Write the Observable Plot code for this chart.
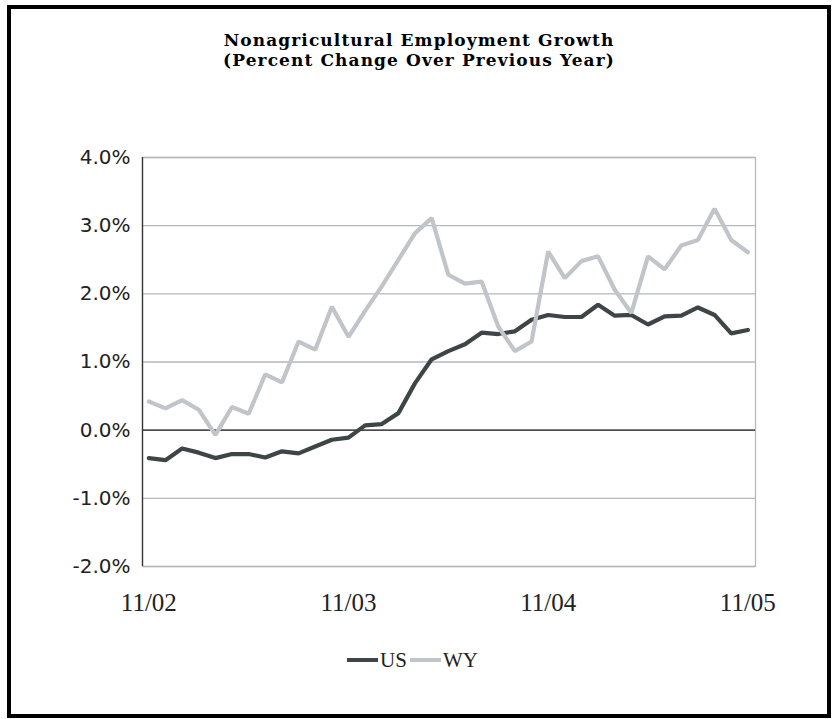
<!DOCTYPE html>
<html>
<head>
<meta charset="utf-8">
<script src="https://cdn.jsdelivr.net/npm/d3@7"></script>
<script src="https://cdn.jsdelivr.net/npm/@observablehq/plot@0.6"></script>
<style>
  html, body { margin: 0; padding: 0; background: #fff; }
  #frame { position: absolute; left: 7px; top: 5px; width: 816px; height: 705px; border: 4px solid #000; background: #fff; }
  #title { height: 71px; box-sizing: border-box; padding-top: 21px; text-align: center; font-family: "DejaVu Serif", serif; font-weight: bold; font-size: 17px; letter-spacing: 1.1px; line-height: 20px; color: #000; }
  #chart svg { display: block; }
  #legend { position: relative; height: 40px; font-family: "Liberation Serif", serif; font-size: 21px; color: #222; }
  .item { position: absolute; top: 0; height: 40px; display: flex; align-items: center; }
  .sw { display: inline-block; width: 31px; height: 4px; margin-right: 2px; }
</style>
</head>
<body>
<div id="frame">
  <div id="title">Nonagricultural Employment Growth<br>(Percent Change Over Previous Year)</div>
  <div id="chart"></div>
  <div id="legend"></div>
</div>
<script>
const months = ["11/02","12/02","01/03","02/03","03/03","04/03","05/03","06/03","07/03","08/03","09/03","10/03",
  "11/03","12/03","01/04","02/04","03/04","04/04","05/04","06/04","07/04","08/04","09/04","10/04",
  "11/04","12/04","01/05","02/05","03/05","04/05","05/05","06/05","07/05","08/05","09/05","10/05","11/05"];
const us = [-0.41,-0.44,-0.27,-0.33,-0.41,-0.35,-0.35,-0.40,-0.31,-0.34,-0.24,-0.14,
  -0.11,0.07,0.09,0.25,0.69,1.04,1.16,1.26,1.43,1.41,1.45,1.62,
  1.69,1.66,1.66,1.84,1.68,1.69,1.55,1.67,1.68,1.80,1.69,1.42,1.47];
const wy = [0.42,0.32,0.44,0.30,-0.07,0.34,0.24,0.82,0.70,1.30,1.18,1.81,
  1.37,1.75,2.11,2.50,2.89,3.11,2.28,2.15,2.18,1.52,1.16,1.30,
  2.62,2.23,2.48,2.55,2.06,1.72,2.55,2.36,2.71,2.79,3.25,2.79,2.61];
const xTickLabels = ["11/02","11/03","11/04","11/05"];
const yTicks = [-2,-1,0,1,2,3,4];
const seriesNames = ["US","WY"];
const seriesColors = ["#3e4547","#c1c4c8"];

const data = months.map((m, i) => ({i, month: m, US: us[i], WY: wy[i]}));
const xTickIdx = xTickLabels.map(l => months.indexOf(l));
const xDomain = [-0.38, months.length - 1 + 0.46];

const chart = Plot.plot({
  width: 816,
  height: 560,
  marginTop: 77,
  marginBottom: 74,
  marginLeft: 131,
  marginRight: 72,
  style: {fontFamily: "Liberation Serif, serif", fontSize: "18px", color: "#222", background: "#fff", overflow: "visible"},
  x: {type: "linear", domain: xDomain},
  y: {domain: [-2, 4]},
  marks: [
    Plot.gridY(yTicks, {stroke: "#b5b8bb", strokeOpacity: 1, strokeWidth: 1.3}),
    Plot.frame({stroke: "#b5b8bb", strokeWidth: 1.3}),
    Plot.ruleY([0], {stroke: "#222", strokeWidth: 1.3}),
    Plot.ruleX([xDomain[0]], {stroke: "#333", strokeWidth: 1.3}),
    Plot.lineY(data, {x: "i", y: "US", stroke: seriesColors[0], strokeWidth: 4.2, strokeLinejoin: "miter"}),
    Plot.lineY(data, {x: "i", y: "WY", stroke: seriesColors[1], strokeWidth: 4.2, strokeLinejoin: "miter"}),
    Plot.axisY(yTicks, {tickSize: 0, tickPadding: 12, tickFormat: d => d.toFixed(1) + "%",
      fontFamily: "DejaVu Sans, sans-serif", fontSize: 20, letterSpacing: 3, fill: "#222", label: null}),
    Plot.axisX(xTickIdx, {tickSize: 0, tickPadding: 27, tickFormat: i => months[i],
      fontFamily: "Liberation Serif, serif", fontSize: 25, letterSpacing: 1.5, fill: "#222", label: null})
  ]
});
document.getElementById("chart").appendChild(chart);

const legend = document.getElementById("legend");
const lefts = [336, 399];
seriesNames.forEach((name, k) => {
  const item = document.createElement("div");
  item.className = "item";
  item.style.left = lefts[k] + "px";
  const sw = document.createElement("span");
  sw.className = "sw";
  sw.style.background = seriesColors[k];
  item.appendChild(sw);
  const t = document.createElement("span");
  t.textContent = name;
  item.appendChild(t);
  legend.appendChild(item);
});
</script>
</body>
</html>
